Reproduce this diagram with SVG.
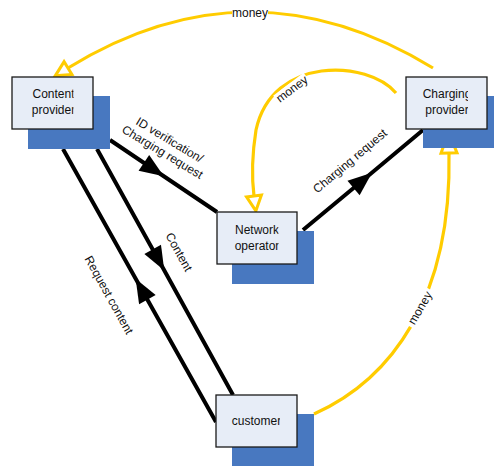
<svg xmlns="http://www.w3.org/2000/svg" width="494" height="466" viewBox="0 0 494 466">
<style>
.blue{fill:#4878C0;}
.box{fill:#E7EDF7;stroke:#1a1a1a;stroke-width:1.3;}
.nt{font-family:"Liberation Sans",Arial,sans-serif;font-size:12px;fill:#111;text-anchor:middle;}
.lt{font-family:"Liberation Sans",Arial,sans-serif;font-size:12px;fill:#111;text-anchor:middle;}
.blk{fill:none;stroke:#000;stroke-width:4;}
.yel{fill:none;stroke:#FFCC00;stroke-width:3.2;}
.gap{fill:#fff;}
</style>
<defs>
<marker id="solid" markerUnits="userSpaceOnUse" markerWidth="28" markerHeight="28" viewBox="-14 -14 28 28" refX="0" refY="0" orient="auto">
<path d="M-11,-9.5 L13,0 L-11,9.5 Z" fill="#000"/>
</marker>
<marker id="open" markerUnits="userSpaceOnUse" markerWidth="24" markerHeight="24" viewBox="-3 -12 24 24" refX="0" refY="0" orient="auto">
<path d="M0,-7.5 L15,0 L0,7.5 Z" fill="#fff" stroke="#FFCC00" stroke-width="3" stroke-linejoin="miter"/>
</marker>
<marker id="openL" markerUnits="userSpaceOnUse" markerWidth="30" markerHeight="30" viewBox="-3 -15 30 30" refX="0" refY="0" orient="auto">
<path d="M0,-8 L21,0 L0,8 Z" fill="#fff" stroke="#FFCC00" stroke-width="3"/>
</marker>
<clipPath id="cCP"><rect x="12" y="77" width="61.5" height="52"/></clipPath>
<clipPath id="cCH"><rect x="406" y="77" width="62" height="52"/></clipPath>
<clipPath id="cNO"><rect x="217" y="212" width="61.5" height="52"/></clipPath>
<clipPath id="cCU"><rect x="216" y="395" width="64" height="52"/></clipPath>
</defs>

<g id="connectors">
<path class="blk" d="M110,140 L153,169 L217,212" marker-mid="url(#solid)"/>
<path class="blk" d="M303,230 L362,181 L423,130" marker-mid="url(#solid)"/>
<path class="blk" d="M97,149 L158,259 L233,395" marker-mid="url(#solid)"/>
<path class="blk" d="M216,422 L142,290 L63,149" marker-mid="url(#solid)"/>
<path class="yel" d="M433,68 Q250,-44 68,68" marker-end="url(#open)"/>
<path class="yel" d="M396,93 C368,60 272,55 256,130 C252,155 252,180 254,196" marker-end="url(#open)"/>
<path class="yel" d="M314,414 C390,380 452,300 449,153" marker-end="url(#openL)"/>

<g transform="translate(166,146) rotate(31)">
<text class="lt" x="0" y="-3">ID verification/</text>
<text class="lt" x="0" y="11">Charging request</text>
</g>
<g transform="translate(350,161) rotate(-40)">
<text class="lt" x="0" y="4">Charging request</text>
</g>
<g transform="translate(179,252) rotate(61)">
<text class="lt" x="0" y="4">Content</text>
</g>
<g transform="translate(109,295) rotate(61)">
<text class="lt" x="0" y="4">Request content</text>
</g>
<g transform="translate(250,13)">
<rect class="gap" x="-18" y="-7" width="36" height="14"/>
<text class="lt" x="0" y="4">money</text>
</g>
<g transform="translate(292,89) rotate(-37)">
<rect class="gap" x="-19" y="-6" width="38" height="12"/>
<text class="lt" x="0" y="4">money</text>
</g>
<g transform="translate(420,308) rotate(-60)">
<rect class="gap" x="-21" y="-6" width="42" height="12"/>
<text class="lt" x="0" y="4">money</text>
</g>
</g>

<g id="content-provider">
<rect class="blue" x="28" y="96" width="82" height="53"/>
<rect class="box" x="12" y="77" width="81" height="52"/>
<g clip-path="url(#cCP)">
<text class="nt" x="53.5" y="98">Content</text>
<text class="nt" x="53.5" y="114">provider</text>
</g>
</g>

<g id="charging-provider">
<rect class="blue" x="423" y="96" width="75" height="52"/>
<rect class="box" x="406" y="77" width="81" height="52"/>
<g clip-path="url(#cCH)">
<text class="nt" x="447" y="98">Charging</text>
<text class="nt" x="447" y="114">provider</text>
</g>
</g>

<g id="network-operator">
<rect class="blue" x="232" y="231" width="82" height="53"/>
<rect class="box" x="217" y="212" width="80" height="52"/>
<g clip-path="url(#cNO)">
<text class="nt" x="257" y="234">Network</text>
<text class="nt" x="257" y="250">operator</text>
</g>
</g>

<g id="customer">
<rect class="blue" x="232" y="414" width="82" height="55"/>
<rect class="box" x="216" y="395" width="81" height="52"/>
<g clip-path="url(#cCU)">
<text class="nt" x="256.5" y="425">customer</text>
</g>
</g>
</svg>
